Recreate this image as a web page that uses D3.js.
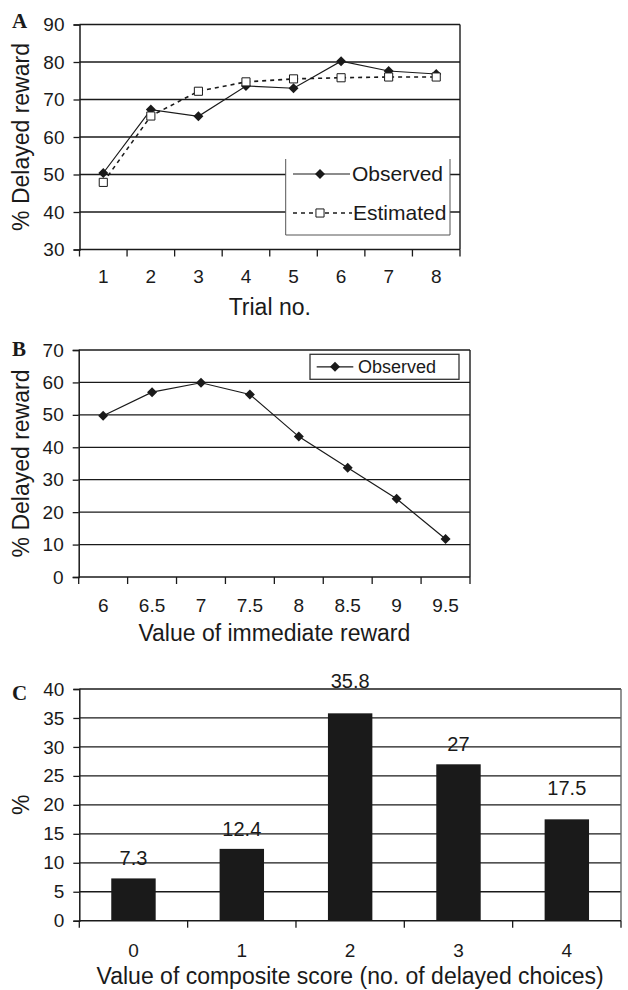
<!DOCTYPE html>
<html><head><meta charset="utf-8">
<script src="https://cdn.jsdelivr.net/npm/d3@7"></script>
<style>body{margin:0;background:#fff}svg{display:block}</style>
</head><body>
<svg id="c" width="628" height="990"></svg>
<script>
// ---------- DATA ----------
const trials = ["1","2","3","4","5","6","7","8"];
const observedA = [50.4, 67.3, 65.5, 73.6, 73.0, 80.2, 77.6, 76.8];
const estimatedA = [47.9, 65.6, 72.2, 74.7, 75.5, 75.8, 76.0, 76.0];
const yTicksA = [30, 40, 50, 60, 70, 80, 90];

const immediate = ["6","6.5","7","7.5","8","8.5","9","9.5"];
const observedB = [49.7, 57.0, 59.9, 56.3, 43.3, 33.7, 24.1, 11.7];
const yTicksB = [0, 10, 20, 30, 40, 50, 60, 70];

const scores = ["0","1","2","3","4"];
const percentC = [7.3, 12.4, 35.8, 27, 17.5];
const yTicksC = [0, 5, 10, 15, 20, 25, 30, 35, 40];

// ---------- DRAWING ----------
const svg = d3.select("#c");
const FONT = "'Liberation Sans', Arial, Helvetica, sans-serif";
const INK = "#1a1a1a";
const TICK_FS = 19;

function frame(g, x, y, box, ticks, o) {
  const [L, R, T, B] = box;
  g.append("g").selectAll("line").data(ticks.filter(t => t !== y.domain()[0]))
    .join("line")
    .attr("x1", L).attr("x2", R)
    .attr("y1", d => y(d)).attr("y2", d => y(d))
    .attr("stroke", INK).attr("stroke-width", 1.3);
  g.append("line").attr("x1", R).attr("x2", R).attr("y1", T).attr("y2", B)
    .attr("stroke", o.rightColor || INK).attr("stroke-width", 1.4);
  const ya = g.append("g").attr("transform", `translate(${L},0)`)
    .call(d3.axisLeft(y).tickValues(ticks).tickSize(6).tickPadding(9).tickFormat(d3.format("d")));
  ya.select(".domain").attr("stroke", INK).attr("stroke-width", 1.5);
  ya.selectAll(".tick line").attr("stroke", INK).attr("stroke-width", 1.3);
  ya.selectAll("text").attr("font-family", FONT).attr("font-size", TICK_FS).attr("fill", INK);
  const xa = g.append("g").attr("transform", `translate(0,${B})`)
    .call(d3.axisBottom(x).tickSize(0).tickPadding(o.xPad));
  xa.select(".domain").remove();
  xa.selectAll("text").attr("font-family", FONT).attr("font-size", TICK_FS).attr("fill", INK);
  const bounds = x.domain().map(d => x(d)).concat([x.range()[1]]);
  g.append("line").attr("x1", L).attr("x2", R).attr("y1", B).attr("y2", B)
    .attr("stroke", INK).attr("stroke-width", 1.5);
  g.append("g").selectAll("line").data(bounds).join("line")
    .attr("x1", d => d).attr("x2", d => d).attr("y1", B).attr("y2", B + 7)
    .attr("stroke", INK).attr("stroke-width", 1.3);
  g.append("text").attr("transform", `translate(29,${(T + B) / 2}) rotate(-90)`)
    .attr("text-anchor", "middle").attr("font-family", FONT).attr("font-size", 23)
    .attr("fill", INK).text(o.yTitle);
  g.append("text").attr("x", (L + R) / 2).attr("y", o.xTitleY)
    .attr("text-anchor", "middle").attr("font-family", FONT).attr("font-size", 23)
    .attr("fill", INK).text(o.xTitle);
  g.append("text").attr("x", 12).attr("y", o.letterY)
    .attr("font-family", "'Liberation Serif', 'Times New Roman', serif")
    .attr("font-weight", "bold").attr("font-size", 21).attr("fill", INK).text(o.letter);
}

const diamond = d3.symbol(d3.symbolSquare, 50);
const square = d3.symbol(d3.symbolSquare, 66);

// ---------- PANEL A ----------
(function () {
  const box = [79.5, 460, 24.5, 249.5];
  const x = d3.scaleBand().domain(trials).range([box[0], box[1]]).padding(0);
  const y = d3.scaleLinear().domain([30, 90]).range([box[3], box[2]]);
  const g = svg.append("g");
  frame(g, x, y, box, yTicksA, {xPad: 20, yTitle: "% Delayed reward",
    xTitle: "Trial no.", xTitleY: 315, letter: "A", letterY: 28});
  const cx = d => x(d) + x.bandwidth() / 2;
  const lg = g.append("g");
  lg.append("rect").attr("x", 285.7).attr("y", 159).attr("width", 164.3).attr("height", 76)
    .attr("fill", "#fff");
  lg.append("path").attr("d", "M285.7,159V235H450V159").attr("fill", "none")
    .attr("stroke", "#555").attr("stroke-width", 1);
  lg.append("line").attr("x1", 293).attr("x2", 350).attr("y1", 174).attr("y2", 174)
    .attr("stroke", INK).attr("stroke-width", 1.2);
  lg.append("path").attr("d", diamond).attr("transform", "translate(320,174) rotate(45)").attr("fill", INK);
  lg.append("text").attr("x", 352).attr("y", 174).attr("dy", "0.35em").attr("font-family", FONT)
    .attr("font-size", 21).attr("fill", INK).text("Observed");
  lg.append("line").attr("x1", 293).attr("x2", 352).attr("y1", 213).attr("y2", 213)
    .attr("stroke", INK).attr("stroke-width", 1.6).attr("stroke-dasharray", "4,4");
  lg.append("path").attr("d", square).attr("transform", "translate(320,213)")
    .attr("fill", "#fff").attr("stroke", INK).attr("stroke-width", 1);
  lg.append("text").attr("x", 353).attr("y", 213).attr("dy", "0.35em").attr("font-family", FONT)
    .attr("font-size", 21).attr("fill", INK).text("Estimated");
  const line = d3.line().x((d, i) => cx(trials[i])).y(d => y(d));
  g.append("path").datum(estimatedA).attr("d", line).attr("fill", "none")
    .attr("stroke", INK).attr("stroke-width", 1.6).attr("stroke-dasharray", "4,4");
  g.append("path").datum(observedA).attr("d", line).attr("fill", "none")
    .attr("stroke", INK).attr("stroke-width", 1.2);
  g.append("g").selectAll("path").data(observedA).join("path").attr("d", diamond)
    .attr("transform", (d, i) => `translate(${cx(trials[i])},${y(d)}) rotate(45)`).attr("fill", INK);
  g.append("g").selectAll("path").data(estimatedA).join("path").attr("d", square)
    .attr("transform", (d, i) => `translate(${cx(trials[i])},${y(d)})`)
    .attr("fill", "#fff").attr("stroke", INK).attr("stroke-width", 1);
})();

// ---------- PANEL B ----------
(function () {
  const box = [78.7, 470, 350, 577];
  const x = d3.scaleBand().domain(immediate).range([box[0], box[1]]).padding(0);
  const y = d3.scaleLinear().domain([0, 70]).range([box[3], box[2]]);
  const g = svg.append("g");
  frame(g, x, y, box, yTicksB, {xPad: 21.5, yTitle: "% Delayed reward",
    xTitle: "Value of immediate reward", xTitleY: 641, letter: "B", letterY: 356});
  const cx = d => x(d) + x.bandwidth() / 2;
  const line = d3.line().x((d, i) => cx(immediate[i])).y(d => y(d));
  g.append("path").datum(observedB).attr("d", line).attr("fill", "none")
    .attr("stroke", INK).attr("stroke-width", 1.2);
  g.append("g").selectAll("path").data(observedB).join("path").attr("d", diamond)
    .attr("transform", (d, i) => `translate(${cx(immediate[i])},${y(d)}) rotate(45)`).attr("fill", INK);
  const lg = g.append("g");
  lg.append("rect").attr("x", 310).attr("y", 354.3).attr("width", 149).attr("height", 25)
    .attr("fill", "#fff").attr("stroke", "#333").attr("stroke-width", 1.3);
  lg.append("line").attr("x1", 316.7).attr("x2", 353.3).attr("y1", 366.8).attr("y2", 366.8)
    .attr("stroke", INK).attr("stroke-width", 1.2);
  lg.append("path").attr("d", diamond).attr("transform", "translate(335,366.8) rotate(45)").attr("fill", INK);
  lg.append("text").attr("x", 358).attr("y", 366.8).attr("dy", "0.35em").attr("font-family", FONT)
    .attr("font-size", 18).attr("fill", INK).text("Observed");
})();

// ---------- PANEL C ----------
(function () {
  const box = [79.3, 621, 689, 920.7];
  const x = d3.scaleBand().domain(scores).range([box[0], box[1]]).padding(0);
  const y = d3.scaleLinear().domain([0, 40]).range([box[3], box[2]]);
  const g = svg.append("g");
  frame(g, x, y, box, yTicksC, {xPad: 22.5, yTitle: "%",
    xTitle: "Value of composite score (no. of delayed choices)", xTitleY: 984,
    letter: "C", letterY: 700, rightColor: "#666"});
  const bw = x.bandwidth() * 0.41;
  g.append("g").selectAll("rect").data(percentC).join("rect")
    .attr("x", (d, i) => x(scores[i]) + (x.bandwidth() - bw) / 2)
    .attr("width", bw)
    .attr("y", d => y(d)).attr("height", d => y(0) - y(d))
    .attr("fill", INK);
  const lift = {"2": 12, "4": 11}; // Excel label placement quirk
  g.append("g").selectAll("text").data(percentC).join("text")
    .attr("x", (d, i) => x(scores[i]) + x.bandwidth() / 2)
    .attr("y", (d, i) => y(d) - 13 - (lift[scores[i]] || 0))
    .attr("text-anchor", "middle").attr("font-family", FONT).attr("font-size", 20)
    .attr("fill", INK).text(d => d);
})();
</script>
</body></html>
